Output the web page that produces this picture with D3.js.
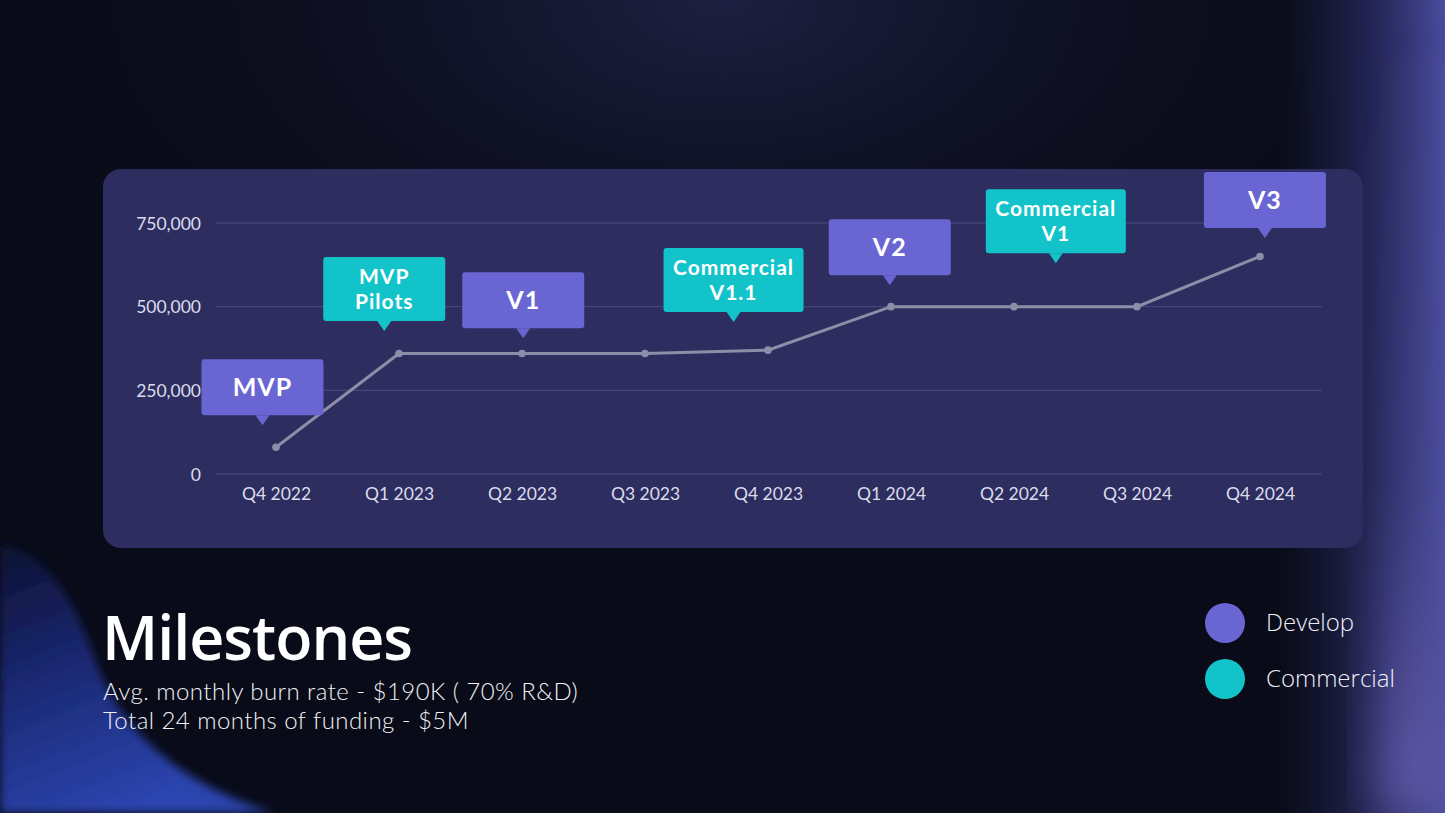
<!DOCTYPE html>
<html><head><meta charset="utf-8">
<script src="https://cdn.jsdelivr.net/npm/d3@7"></script>
<style>html,body{margin:0;padding:0;background:#0a0c1a;overflow:hidden}</style>
</head><body>
<svg id="c" width="1445" height="813"></svg>
<script>
// ---- data ----
const quarters = ["Q4 2022","Q1 2023","Q2 2023","Q3 2023","Q4 2023","Q1 2024","Q2 2024","Q3 2024","Q4 2024"];
const burn = [80000, 360000, 360000, 360000, 370000, 500000, 500000, 500000, 650000];
const yTicks = [0, 250000, 500000, 750000];
// milestone callouts: label lines, type, position in quarter-index and value units (pointer tip)
const mNames = [["MVP"],["MVP","Pilots"],["V1"],["Commercial","V1.1"],["V2"],["Commercial","V1"],["V3"]];
const mTypes = ["Develop","Commercial","Develop","Commercial","Develop","Commercial","Develop"];
const mIdx   = [-0.11, 0.88, 2.01, 3.72, 4.99, 6.34, 8.04];
const mVal   = [146000, 427000, 406000, 454000, 564000, 630000, 705000];
const legendItems = ["Develop","Commercial"];
const subtitleLines = ["Avg. monthly burn rate - $190K ( 70% R&D)", "Total 24 months of funding - $5M"];
const colors = {Develop:"#6966d3", Commercial:"#12c4c9"};

const svg = d3.select("#c");
const W=1445,H=813;
const defs = svg.append("defs");
// background gradients
const g1 = defs.append("radialGradient").attr("id","glowTop").attr("cx","0.5").attr("cy","0.0").attr("r","0.5");
g1.append("stop").attr("offset","0").attr("stop-color","#1d2142");
g1.append("stop").attr("offset","1").attr("stop-color","#0a0c1a").attr("stop-opacity","0");
const gr = defs.append("linearGradient").attr("id","rightBand").attr("x1","0").attr("x2","1").attr("y1","0").attr("y2","0");
gr.append("stop").attr("offset","0").attr("stop-color","#2a2d66").attr("stop-opacity","0");
gr.append("stop").attr("offset","0.55").attr("stop-color","#33367a").attr("stop-opacity","0.6");
gr.append("stop").attr("offset","1").attr("stop-color","#4a4d9e").attr("stop-opacity","1");
const gv = defs.append("linearGradient").attr("id","rightV").attr("x1","0").attr("x2","0").attr("y1","0").attr("y2","1");
gv.append("stop").attr("offset","0").attr("stop-color","#5d58ab").attr("stop-opacity","0");
gv.append("stop").attr("offset","0.6").attr("stop-color","#5d58ab").attr("stop-opacity","0.2");
gv.append("stop").attr("offset","1").attr("stop-color","#6b60b2").attr("stop-opacity","0.9");
const gb = defs.append("linearGradient").attr("id","blueShape").attr("x1","0").attr("x2","0.4").attr("y1","0").attr("y2","1");
gb.append("stop").attr("offset","0").attr("stop-color","#0c1130");
gb.append("stop").attr("offset","0.45").attr("stop-color","#1a2770");
gb.append("stop").attr("offset","1").attr("stop-color","#2b44ae");
const blur = defs.append("filter").attr("id","blur").attr("x","-50%").attr("y","-50%").attr("width","200%").attr("height","200%");
blur.append("feGaussianBlur").attr("stdDeviation","25");
const blurS = defs.append("filter").attr("id","blurS").attr("x","-20%").attr("y","-20%").attr("width","140%").attr("height","140%");
blurS.append("feGaussianBlur").attr("stdDeviation","5");

svg.append("rect").attr("width",W).attr("height",H).attr("fill","#090b18");
svg.append("rect").attr("width",W).attr("height",H).attr("fill","url(#glowTop)");
svg.append("rect").attr("x",1280).attr("width",165).attr("height",H).attr("fill","url(#rightBand)");
svg.append("rect").attr("x",1380).attr("width",65).attr("height",H).attr("fill","url(#rightV)").attr("filter","url(#blur)");
// blue curved shape bottom-left
svg.append("path").attr("d","M0,545 C45,550 75,600 95,660 C120,730 180,785 275,813 L0,813 Z")
  .attr("fill","url(#blueShape)").attr("filter","url(#blurS)");

// card
svg.append("rect").attr("x",103).attr("y",169).attr("width",1260).attr("height",379).attr("rx",18).attr("fill","#2d2e5f");

const x = d3.scalePoint().domain(quarters).range([276,1260]);
const xi = d3.scaleLinear().domain([0, quarters.length-1]).range([276,1260]);
const y = d3.scaleLinear().domain([0,750000]).range([474,223]);

// grid
svg.append("g").selectAll("line").data(yTicks).join("line")
  .attr("x1",216).attr("x2",1322).attr("y1",d=>y(d)).attr("y2",d=>y(d))
  .attr("stroke","#4a4c82").attr("stroke-width",1);

// y axis labels
const yAxis = d3.axisLeft(y).tickValues(yTicks).tickFormat(d3.format(",")).tickSize(0).tickPadding(0);
const ya = svg.append("g").attr("transform","translate(201,0)").call(yAxis);
ya.select(".domain").remove();
ya.selectAll("text").attr("fill","#dcdcec").style("font-family","Lato, sans-serif").style("font-size","17.5px").attr("dy","0.35em");

// x axis labels
const xAxis = d3.axisBottom(x).tickSize(0).tickPadding(0);
const xa = svg.append("g").attr("transform","translate(0,484)").call(xAxis);
xa.select(".domain").remove();
xa.selectAll("text").attr("fill","#dcdcec").style("font-family","Lato, sans-serif").style("font-size","17.5px").attr("dy","0.9em");

// line
const line = d3.line().x((d,i)=>x(quarters[i])).y(d=>y(d));
svg.append("path").datum(burn).attr("d",line).attr("fill","none").attr("stroke","#8d8da8").attr("stroke-width",3);
svg.append("g").selectAll("circle").data(burn).join("circle")
  .attr("cx",(d,i)=>x(quarters[i])).attr("cy",d=>y(d)).attr("r",3.8).attr("fill","#8d8da8");

// callouts
const cg = svg.append("g");
mNames.forEach((lines,i)=>{
  const tx = xi(mIdx[i]), ty = y(mVal[i]);
  const two = lines.length>1;
  const bw = two && lines[0]==="Commercial" ? 140 : 122;
  const bh = two ? 64 : 56;
  const ph = 10, pw = 7;
  const by = ty - ph - bh;
  const g = cg.append("g");
  const c = colors[mTypes[i]];
  g.append("rect").attr("x",tx-bw/2).attr("y",by).attr("width",bw).attr("height",bh).attr("rx",3).attr("fill",c);
  g.append("path").attr("d",`M${tx-pw},${ty-ph} L${tx},${ty} L${tx+pw},${ty-ph} Z`).attr("fill",c);
  const fs = two ? 21 : 25;
  const lh = 25;
  const t = g.append("text").attr("text-anchor","middle").attr("fill","#ffffff")
      .style("font-family","Lato, sans-serif").style("font-weight","700").style("font-size",fs+"px")
      .style("letter-spacing","1px");
  lines.forEach((s,j)=>{
    t.append("tspan").attr("x",tx).attr("y", by + bh/2 + (j-(lines.length-1)/2)*lh).attr("dy","0.36em").text(s);
  });
});

// title
svg.append("text").attr("x",102).attr("y",660).attr("fill","#ffffff")
  .style("font-family","'Open Sans', sans-serif").style("font-weight","600").style("font-size","61px")
  .style("letter-spacing","-1px").text("Milestones");
const sub = svg.append("text").attr("fill","#f0f0f6")
  .style("font-family","Lato, sans-serif").style("font-weight","300").style("font-size","24px")
  .style("letter-spacing","0.45px");
subtitleLines.forEach((s,j)=>{
  sub.append("tspan").attr("x",103).attr("y",700 + j*29).text(s);
});

// legend
const lg = svg.append("g").selectAll("g").data(legendItems).join("g")
  .attr("transform",(d,i)=>`translate(1225,${623+i*56})`);
lg.append("circle").attr("r",20).attr("fill",d=>colors[d]);
lg.append("text").attr("x",41).attr("dy","0.35em").attr("fill","#eeeef6")
  .style("font-family","'Open Sans', sans-serif").style("font-weight","300").style("font-size","24px").text(d=>d);
</script>
</body></html>
